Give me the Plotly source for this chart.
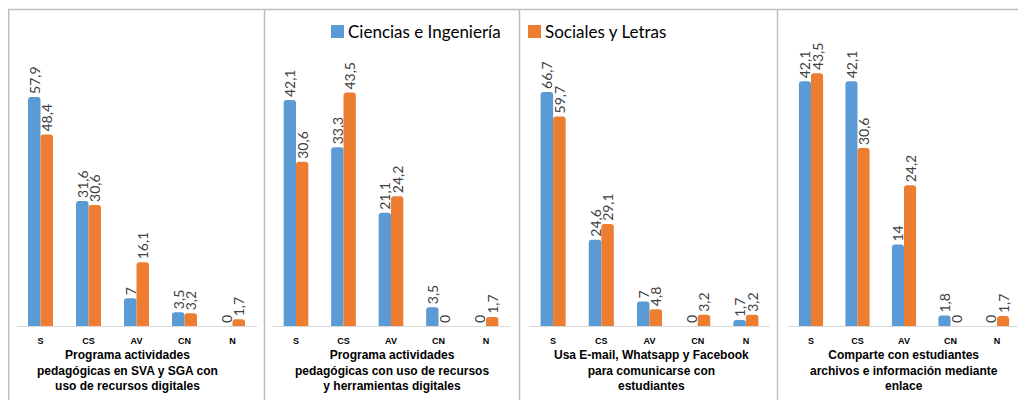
import plotly.graph_objects as go

categories = ["S", "CS", "AV", "CN", "N"]
series_names = ["Ciencias e Ingeniería", "Sociales y Letras"]

p1_ci = [57.9, 31.6, 7, 3.5, 0]
p1_sl = [48.4, 30.6, 16.1, 3.2, 1.7]
p2_ci = [42.1, 33.3, 21.1, 3.5, 0]
p2_sl = [30.6, 43.5, 24.2, 0, 1.7]
p3_ci = [66.7, 24.6, 7, 0, 1.7]
p3_sl = [59.7, 29.1, 4.8, 3.2, 3.2]
p4_ci = [42.1, 42.1, 14, 1.8, 0]
p4_sl = [43.5, 30.6, 24.2, 0, 1.7]

panel_titles = [
    "Programa actividades<br>pedagógicas en SVA y SGA con<br>uso de recursos digitales",
    "Programa actividades<br>pedagógicas con uso de recursos<br>y herramientas digitales",
    "Usa E-mail, Whatsapp y Facebook<br>para comunicarse con<br>estudiantes",
    "Comparte con estudiantes<br>archivos e información mediante<br>enlace",
]

panels = [(p1_ci, p1_sl), (p2_ci, p2_sl), (p3_ci, p3_sl), (p4_ci, p4_sl)]

# the page body has an 8px margin: figure pixel = window pixel - 8
OFF = 8
W, H = 1026 - OFF, 400 - OFF
BLUE = "#5B9BD5"
ORANGE = "#ED7D31"
colors = [BLUE, ORANGE]


def px(xw):
    return (xw - OFF) / W


def py(yw):
    return 1 - (yw - OFF) / H


# layout in window pixels
x_px = [(16.5, 256.5), (272.25, 509.75), (529, 770), (787.75, 1020.25)]
title_x = [127, 392, 651, 904]
y_top_px, y_base_px = 40, 326
y_max = [72.3, 53.3, 81.5, 49.2]


def fmt(v):
    return ("%g" % v).replace(".", ",")


fig = go.Figure()
layout = dict(
    width=W, height=H, margin=dict(l=0, r=0, t=0, b=0),
    paper_bgcolor="white", plot_bgcolor="white",
    showlegend=False, barmode="group", bargap=0.48, bargroupgap=0,
    barcornerradius=3,
)
annotations = []
shapes = []

for i, (ci, sl) in enumerate(panels):
    sfx = "" if i == 0 else str(i + 1)
    xa, ya = "x" + sfx, "y" + sfx
    for j, vals in enumerate([ci, sl]):
        fig.add_trace(go.Bar(
            x=categories, y=vals, name=series_names[j],
            marker=dict(color=colors[j], line=dict(width=0)),
            text=[fmt(v) for v in vals], textposition="outside",
            textangle=-90, constraintext="none", cliponaxis=False,
            textfont=dict(family="Lato", size=14, color="#404040"),
            xaxis=xa, yaxis=ya, offsetgroup=str(j),
        ))
    x0, x1 = x_px[i]
    layout["xaxis" + sfx] = dict(
        domain=[px(x0), px(x1)], anchor=ya, type="category",
        showgrid=False, zeroline=False, showline=True, linecolor="#d9d9d9",
        linewidth=1, ticks="", ticklabelstandoff=6,
        tickfont=dict(family="Liberation Sans", size=9, color="#000000", weight="bold"),
    )
    layout["yaxis" + sfx] = dict(
        domain=[py(y_base_px), py(y_top_px)], anchor=xa,
        range=[0, y_max[i]], visible=False, showgrid=False,
    )
    annotations.append(dict(
        text=panel_titles[i], xref="paper", yref="paper",
        x=px(title_x[i]), y=py(346), xanchor="center", yanchor="top",
        showarrow=False, align="center",
        font=dict(family="Liberation Sans", size=12, color="#000000", weight="bold"),
    ))

# panel borders
border = dict(color="#bfbfbf", width=1.5)
shapes.append(dict(type="line", xref="paper", yref="paper",
                   x0=px(8), x1=1, y0=py(9.5), y1=py(9.5), line=border))
for xv in [8.75, 264.5, 519.5, 777.5]:
    shapes.append(dict(type="line", xref="paper", yref="paper",
                       x0=px(xv), x1=px(xv), y0=0, y1=py(9.5), line=border))

# custom legend
leg = [(331, series_names[0], BLUE), (528, series_names[1], ORANGE)]
for lx, name, col in leg:
    shapes.append(dict(type="rect", xref="paper", yref="paper",
                       x0=px(lx), x1=px(lx + 13), y0=py(38), y1=py(25),
                       fillcolor=col, line=dict(width=0)))
    annotations.append(dict(
        text=name, xref="paper", yref="paper", x=px(lx + 15), y=py(31.5),
        xanchor="left", yanchor="middle", showarrow=False,
        font=dict(family="Lato", size=17, color="#000000"),
    ))

layout["annotations"] = annotations
layout["shapes"] = shapes
fig.update_layout(**layout)
fig.write_html("out.html")
